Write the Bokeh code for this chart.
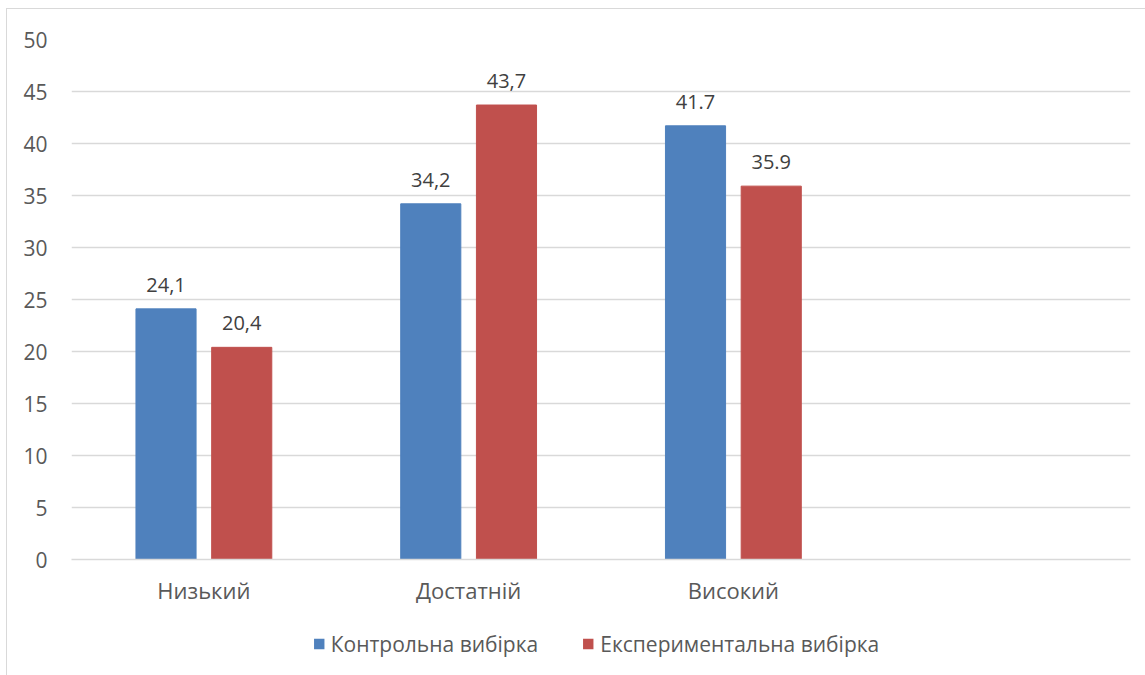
from bokeh.plotting import figure
from bokeh.layouts import column
from bokeh.models import ColumnDataSource, FactorRange, Range1d, Legend, LegendItem, SingleIntervalTicker
from bokeh.transform import dodge
from bokeh.core.properties import value
from bokeh.embed import file_html
from bokeh.resources import INLINE

# Рівні сформованості (четверта позиція порожня)
levels = ["Низький", "Достатній", "Високий", " "]
control = [24.1, 34.2, 41.7]
experimental = [20.4, 43.7, 35.9]
control_labels = ["24,1", "34,2", "41.7"]
experimental_labels = ["20,4", "43,7", "35.9"]
series_names = ["Контрольна вибірка", "Експериментальна вибірка"]

BLUE = "#4f81bd"
RED = "#c0504d"
FONT = "Open Sans"

src = ColumnDataSource(dict(
    level=levels[:3],
    control=control,
    experimental=experimental,
    cl=control_labels,
    el=experimental_labels,
))

p = figure(
    x_range=FactorRange(*levels, range_padding=0),
    y_range=Range1d(0, 50),
    frame_width=1059, frame_height=520,
    output_backend="svg", toolbar_location=None,
    min_border_left=64, min_border_right=16,
    min_border_top=30, min_border_bottom=64,
)
p.outline_line_color = None
p.background_fill_color = "white"
p.border_fill_color = "white"

r1 = p.vbar(x=dodge("level", -0.143, range=p.x_range), top="control", width=0.227,
            source=src, fill_color=BLUE, line_color=BLUE)
r2 = p.vbar(x=dodge("level", 0.143, range=p.x_range), top="experimental", width=0.227,
            source=src, fill_color=RED, line_color=RED)

p.text(x=dodge("level", -0.143, range=p.x_range), y="control", text="cl", source=src,
       text_align="center", text_baseline="bottom", y_offset=-17,
       text_font=value(FONT), text_font_size="20px", text_color="#404040")
p.text(x=dodge("level", 0.143, range=p.x_range), y="experimental", text="el", source=src,
       text_align="center", text_baseline="bottom", y_offset=-17,
       text_font=value(FONT), text_font_size="20px", text_color="#404040")

# сітка
p.xgrid.grid_line_color = None
p.ygrid.grid_line_color = "#d9d9d9"
p.ygrid.grid_line_width = 1.5
p.yaxis.ticker = SingleIntervalTicker(interval=5)

p.yaxis.axis_line_color = None
p.yaxis.major_tick_line_color = None
p.yaxis.minor_tick_line_color = None
p.yaxis.major_tick_out = 0
p.yaxis.major_label_standoff = 20
p.yaxis.major_label_text_font = FONT
p.yaxis.major_label_text_font_size = "21px"
p.yaxis.major_label_text_color = "#595959"

p.xaxis.axis_line_color = "#d9d9d9"
p.xaxis.axis_line_width = 1.5
p.xaxis.major_tick_line_color = None
p.xaxis.minor_tick_line_color = None
p.xaxis.major_tick_out = 0
p.xaxis.major_label_standoff = 15
p.xaxis.major_label_text_font = FONT
p.xaxis.major_label_text_font_size = "22px"
p.xaxis.major_label_text_color = "#595959"

# окрема смуга для легенди під діаграмою; приховані ряди лише задають
# кольорові маркери легенди
leg = figure(
    x_range=FactorRange(*levels), y_range=Range1d(0, 1),
    width=1139, height=53,
    x_axis_type=None, y_axis_type=None,
    output_backend="svg", toolbar_location=None,
    min_border_left=0, min_border_right=26,
    min_border_top=0, min_border_bottom=12,
)
leg.outline_line_color = None
leg.xgrid.grid_line_color = None
leg.ygrid.grid_line_color = None
lr1 = leg.vbar(x="level", top="control", bottom="control", width=0, source=src,
               fill_color=BLUE, line_alpha=0)
lr2 = leg.vbar(x="level", top="experimental", bottom="experimental", width=0, source=src,
               fill_color=RED, line_alpha=0)
lr1.visible = False
lr2.visible = False

legend = Legend(
    items=[LegendItem(label=series_names[0], renderers=[lr1]),
           LegendItem(label=series_names[1], renderers=[lr2])],
    orientation="horizontal",
    location="center",
    click_policy="none",
    margin=0,
    padding=2,
    border_line_color=None,
    background_fill_alpha=0,
    label_text_font=FONT,
    label_text_font_size="21px",
    label_text_color="#595959",
    glyph_width=13, glyph_height=13,
    spacing=43, label_standoff=6,
)
leg.add_layout(legend, "center")

layout = column(p, leg, spacing=0)
layout.margin = (8, 0, 0, 6)
layout.styles = {"border": "1.5px solid #d9d9d9", "background-color": "white"}

open("out.html", "w").write(file_html(layout, INLINE))
